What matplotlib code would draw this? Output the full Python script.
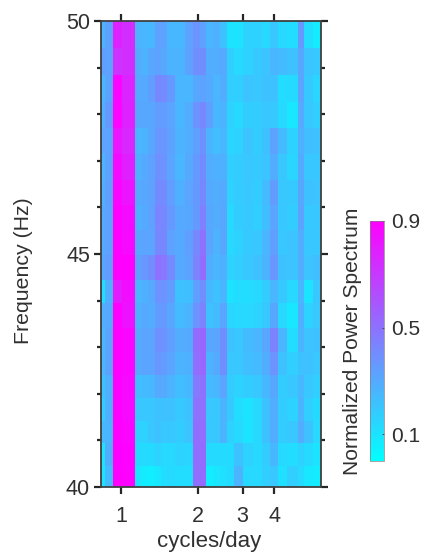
import matplotlib
matplotlib.use('Agg')
import matplotlib.pyplot as plt
import numpy as np

plt.rcParams['font.family'] = ['Liberation Sans', 'DejaVu Sans']

x_edges = [0.831, 0.864, 0.930, 1.009, 1.126, 1.200, 1.268, 1.351, 1.427, 1.507,
           1.621, 1.776, 1.907, 2.037, 2.151, 2.293, 2.444, 2.606, 2.777, 3.015,
           3.303, 3.585, 3.857, 4.149, 4.503, 4.979, 5.259, 5.657, 6.11]
y_edges = [50.0, 49.42, 48.84, 48.26, 47.70, 47.14, 46.58, 46.05, 45.51, 44.97,
           44.44, 43.94, 43.41, 42.90, 42.40, 41.91, 41.41, 40.94, 40.45, 40.0]
power = [
 [.27,.33,.78,.74,.27,.25,.25,.33,.33,.25,.25,.33,.38,.33,.26,.28,.22,.10,.10,.16,.16,.14,.20,.14,.12,.36,.12,.07],
 [.34,.33,.72,.74,.29,.27,.31,.33,.31,.27,.27,.33,.40,.40,.29,.29,.30,.17,.14,.16,.19,.21,.26,.24,.22,.31,.21,.19],
 [.25,.33,.88,.77,.30,.30,.34,.42,.41,.36,.26,.26,.31,.33,.30,.26,.29,.17,.17,.21,.20,.22,.22,.12,.13,.32,.19,.15],
 [.28,.36,.88,.78,.31,.31,.31,.35,.35,.32,.26,.29,.38,.42,.34,.25,.27,.16,.14,.18,.18,.20,.19,.14,.09,.30,.20,.17],
 [.32,.33,.82,.76,.26,.27,.31,.37,.37,.33,.27,.29,.34,.39,.27,.23,.26,.15,.16,.21,.18,.22,.33,.24,.16,.28,.23,.22],
 [.27,.33,.86,.79,.28,.30,.33,.39,.38,.32,.26,.30,.36,.41,.29,.28,.28,.17,.18,.20,.19,.21,.29,.20,.15,.30,.20,.20],
 [.28,.34,.88,.83,.30,.31,.33,.41,.41,.34,.28,.32,.36,.42,.30,.29,.30,.16,.18,.20,.18,.24,.35,.20,.19,.31,.22,.21],
 [.30,.33,.90,.86,.28,.30,.33,.43,.42,.36,.30,.31,.36,.45,.31,.29,.31,.14,.18,.19,.17,.23,.32,.20,.18,.33,.19,.20],
 [.30,.33,.90,.87,.31,.32,.32,.42,.42,.33,.30,.34,.42,.50,.32,.27,.31,.14,.16,.19,.20,.26,.34,.20,.21,.29,.20,.20],
 [.31,.35,.90,.90,.34,.37,.40,.50,.48,.41,.30,.33,.44,.52,.29,.26,.28,.16,.17,.20,.22,.27,.37,.22,.21,.29,.21,.23],
 [.12,.28,.80,.85,.26,.28,.30,.38,.38,.35,.22,.23,.34,.40,.25,.22,.26,.10,.12,.12,.14,.18,.26,.19,.14,.26,.10,.20],
 [.28,.30,.90,.84,.28,.30,.29,.35,.36,.31,.24,.27,.38,.44,.22,.24,.32,.15,.14,.14,.16,.19,.31,.14,.09,.28,.16,.20],
 [.25,.33,.90,.88,.30,.32,.32,.39,.38,.34,.29,.30,.52,.54,.31,.32,.40,.22,.20,.24,.26,.31,.44,.26,.12,.27,.21,.22],
 [.25,.33,.90,.88,.30,.32,.32,.37,.35,.32,.27,.28,.51,.54,.27,.30,.40,.20,.20,.23,.24,.29,.38,.22,.17,.22,.22,.20],
 [.22,.28,.90,.87,.23,.24,.25,.30,.30,.27,.23,.25,.47,.50,.24,.26,.32,.18,.16,.18,.20,.25,.31,.18,.20,.25,.20,.17],
 [.17,.28,.90,.87,.20,.20,.20,.22,.22,.22,.19,.22,.50,.50,.20,.20,.27,.19,.12,.10,.14,.22,.29,.18,.16,.27,.17,.13],
 [.24,.27,.90,.88,.16,.16,.20,.22,.20,.20,.18,.21,.51,.51,.19,.20,.27,.16,.14,.10,.14,.22,.29,.18,.20,.29,.22,.14],
 [.10,.29,.90,.89,.13,.13,.13,.16,.14,.14,.16,.15,.51,.52,.13,.13,.13,.13,.22,.16,.14,.18,.25,.14,.12,.16,.13,.10],
 [.10,.24,.90,.89,.09,.07,.06,.08,.12,.13,.12,.12,.51,.52,.06,.09,.11,.13,.27,.14,.14,.17,.20,.11,.17,.13,.09,.07],
]
cbar_ticks = [0.1, 0.5, 0.9]
x_ticks = [1, 2, 3, 4]
y_major = [40, 45, 50]
y_minor = [41, 42, 43, 44, 46, 47, 48, 49]

W, H = 422, 553
TXT = '#303030'
fig = plt.figure(figsize=(W / 100, H / 100), dpi=100)
ax = fig.add_axes([101 / W, 1 - 487 / H, 220 / W, 466 / H])
mesh = ax.pcolormesh(x_edges, y_edges, np.array(power), cmap='cool', vmin=0, vmax=0.9,
                     shading='flat', rasterized=True)
ax.set_xscale('log', base=2)
ax.set_xlim(x_edges[0], x_edges[-1])
ax.set_ylim(40, 50)
ax.set_xticks(x_ticks)
ax.set_xticklabels([str(t) for t in x_ticks])
ax.xaxis.set_minor_locator(matplotlib.ticker.NullLocator())
ax.set_yticks(y_major)
ax.set_yticks(y_minor, minor=True)
ax.tick_params(axis='both', which='major', direction='out', length=5, width=1.6,
               color='#262626', labelsize=15.5, labelcolor=TXT, top=True, right=True)
ax.tick_params(axis='x', which='major', pad=9)
ax.tick_params(axis='y', which='major', pad=3)
ax.tick_params(axis='y', which='minor', direction='out', length=3, width=1.6,
               color='#262626', left=True, right=True)
for s in ax.spines.values():
    s.set_linewidth(1.3)
    s.set_color('#404040')
ax.set_xlabel('cycles/day', fontsize=16, color=TXT, va='center')
ax.xaxis.set_label_coords(0.49, -54 / 466)
ax.set_ylabel('Frequency (Hz)', fontsize=15.3, color=TXT, va='center')
ax.yaxis.set_label_coords(-77 / 220, 216 / 466)

cax = fig.add_axes([370 / W, 1 - 461 / H, 14 / W, 240 / H])
cb = fig.colorbar(mesh, cax=cax)
cb.set_ticks(cbar_ticks)
cb.set_ticklabels([str(t) for t in cbar_ticks])
cb.ax.tick_params(direction='in', length=1.5, width=0.6, labelsize=15, pad=5,
                  labelcolor=TXT, color='#404040')
cb.outline.set_linewidth(0.5)
cb.outline.set_edgecolor('#808080')
cb.ax.yaxis.set_label_position('left')
cb.set_label('Normalized Power Spectrum', fontsize=15.1, color=TXT, va='center')
cb.ax.yaxis.set_label_coords(-18 / 14, 0.5)
fig.savefig('out.png', dpi=100)
